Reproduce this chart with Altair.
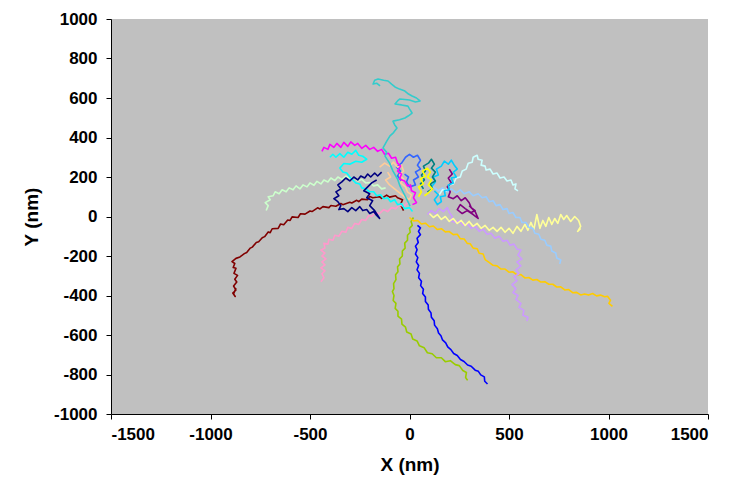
import altair as alt
import pandas as pd

# Trajectories (nm)
tracks = {
    "t01": ("#800000", [(-30,30),(-45,60),(-35,85),(-60,95),(-70,105),(-100,98),(-115,108),(-140,92),(-150,100),(-185,95),(-200,102),(-210,85),(-240,88),(-255,75),(-265,82),(-290,68),(-300,72),(-335,60),(-345,66),(-370,52),(-395,56),(-405,45),(-435,50),(-450,38),(-462,44),(-490,25),(-500,28),(-525,12),(-548,14),(-560,-5),(-590,-2),(-600,-20),(-612,-18),(-632,-42),(-648,-38),(-660,-60),(-690,-62),(-700,-82),(-710,-78),(-728,-102),(-740,-108),(-758,-128),(-770,-132),(-790,-155),(-800,-160),(-818,-182),(-830,-188),(-852,-205),(-872,-212),(-892,-228),(-878,-238),(-886,-258),(-872,-262),(-882,-288),(-864,-298),(-878,-318),(-868,-332),(-884,-352),(-872,-372),(-888,-388),(-876,-405),(-884,-392),(-872,-362)]),
    "t02": ("#CCFFCC", [(-720,30),(-710,55),(-725,70),(-700,85),(-710,100),(-685,105),(-675,125),(-655,115),(-640,135),(-620,125),(-605,145),(-585,135),(-570,155),(-550,140),(-535,160),(-515,150),(-500,170),(-480,158),(-465,178),(-445,165),(-430,185),(-410,175),(-395,195),(-375,182),(-360,200),(-340,188),(-320,205),(-300,192),(-280,198),(-260,180),(-240,188),(-220,170),(-200,172),(-180,155),(-160,160),(-140,140),(-120,145)]),
    "t03": ("#FF99CC", [(-10,70),(-30,50),(-50,60),(-70,40),(-90,45),(-110,25),(-130,35),(-150,15),(-170,20),(-190,0),(-205,5),(-220,-20),(-240,-15),(-255,-40),(-275,-35),(-290,-60),(-310,-55),(-320,-80),(-340,-75),(-355,-100),(-375,-95),(-385,-120),(-405,-115),(-410,-140),(-430,-135),(-425,-160),(-445,-170),(-425,-185),(-440,-200),(-420,-215),(-440,-230),(-425,-245),(-445,-260),(-425,-275),(-440,-290),(-430,-310),(-445,-330)]),
    "t04": ("#99CC00", [(20,-5),(8,-25),(14,-45),(0,-60),(4,-80),(-10,-95),(-10,-120),(-24,-135),(-22,-160),(-36,-175),(-36,-200),(-50,-215),(-48,-240),(-60,-255),(-58,-280),(-70,-295),(-68,-320),(-80,-340),(-78,-365),(-86,-380),(-78,-400),(-82,-425),(-68,-440),(-72,-465),(-58,-480),(-58,-505),(-40,-520),(-38,-545),(-20,-560),(-14,-585),(8,-595),(16,-620),(38,-630),(50,-655),(74,-665),(90,-690),(114,-695),(135,-715),(160,-715),(180,-735),(205,-730),(230,-750),(250,-755),(268,-780),(286,-790),(282,-815),(292,-830)]),
    "t05": ("#0000FF", [(40,-45),(55,-58),(45,-75),(55,-92),(38,-110),(44,-132),(30,-150),(38,-168),(30,-190),(42,-208),(34,-230),(46,-248),(38,-270),(50,-288),(46,-310),(60,-328),(56,-350),(70,-368),(66,-390),(80,-408),(80,-430),(94,-448),(95,-470),(108,-488),(110,-510),(124,-528),(126,-550),(140,-568),(146,-590),(158,-604),(166,-625),(182,-640),(192,-660),(208,-674),(222,-694),(240,-704),(256,-724),(274,-734),(292,-752),(310,-758),(330,-778),(346,-784),(358,-802),(376,-812),(378,-834),(392,-848)]),
    "t06": ("#FFCC00", [(0,-5),(20,-22),(40,-20),(60,-38),(80,-34),(100,-52),(120,-48),(140,-66),(160,-62),(180,-78),(200,-76),(220,-92),(240,-90),(255,-112),(275,-114),(290,-136),(305,-138),(320,-160),(340,-163),(350,-186),(370,-190),(380,-218),(400,-232),(420,-247),(440,-250),(460,-266),(480,-266),(500,-282),(520,-280),(540,-296),(560,-294),(580,-311),(600,-309),(620,-322),(640,-319),(660,-332),(680,-330),(700,-343),(720,-343),(740,-357),(760,-356),(780,-372),(800,-370),(820,-386),(840,-384),(860,-397),(880,-392),(900,-398),(920,-390),(940,-402),(960,-398),(980,-406),(995,-404),(1010,-424),(1002,-440),(1020,-455)]),
    "t07": ("#CC99FF", [(90,10),(110,30),(130,15),(150,40),(170,25),(190,45),(200,20),(215,0),(205,-20),(230,-30),(250,-20),(270,-45),(290,-35),(310,-60),(330,-50),(350,-75),(370,-65),(390,-90),(410,-85),(430,-110),(450,-100),(470,-125),(490,-120),(505,-145),(525,-140),(540,-165),(560,-170),(545,-195),(565,-215),(540,-230),(560,-250),(535,-270),(550,-290),(525,-305),(540,-325),(515,-345),(535,-365),(520,-385),(545,-400),(535,-420),(560,-440),(550,-460),(575,-475),(570,-500),(595,-510),(590,-530)]),
    "t08": ("#FFFF99", [(100,15),(120,-5),(140,10),(160,-15),(180,0),(200,-25),(220,-10),(240,-35),(260,-20),(280,-45),(300,-25),(320,-50),(340,-35),(360,-60),(380,-45),(400,-70),(420,-55),(440,-75),(460,-55),(480,-80),(500,-60),(520,-85),(540,-50),(560,-75),(580,-40),(595,-70),(610,-30),(625,-65),(640,10),(655,-60),(670,-20),(685,-50),(700,-5),(715,-40),(730,-10),(745,-35),(760,10),(775,-15),(790,5),(810,-25),(830,0),(850,-20),(860,-50),(845,-75),(860,-60)]),
    "t09": ("#99CCFF", [(120,150),(145,130),(165,145),(190,125),(210,140),(235,120),(255,135),(275,115),(300,125),(320,105),(345,115),(365,95),(385,100),(400,75),(420,80),(435,55),(455,60),(470,35),(490,40),(500,15),(520,20),(535,-5),(555,-5),(565,-30),(585,-30),(600,-55),(620,-60),(630,-85),(650,-90),(660,-115),(680,-120),(690,-145),(710,-150),(715,-175),(735,-185),(740,-210),(760,-220),(755,-240)]),
    "t10": ("#CCFFFF", [(150,110),(165,135),(185,130),(200,160),(220,165),(235,195),(255,200),(265,230),(285,240),(295,270),(315,275),(320,300),(340,310),(345,290),(365,285),(360,260),(380,255),(385,235),(405,240),(420,215),(440,220),(455,195),(475,200),(490,180),(510,185),(520,160),(535,165),(530,140),(545,130)]),
    "t11": ("#800080", [(200,240),(215,215),(195,195),(210,170),(190,150),(205,125),(195,100),(220,90),(240,105),(260,80),(280,95),(300,70),(310,45),(330,30),(310,20),(280,40),(255,60),(240,35),(265,15),(290,30),(320,10),(345,-10),(330,25),(300,55)]),
    "t12": ("#00CCFF", [(110,150),(130,175),(120,200),(145,210),(135,240),(160,255),(175,280),(195,265),(210,285),(225,260),(240,240),(220,225),(235,200),(210,195),(220,170),(195,160),(200,135),(175,130),(180,105),(155,100),(160,75),(140,60),(125,85),(145,110),(125,130)]),
    "t13": ("#008080", [(70,140),(55,165),(75,185),(60,210),(80,230),(70,255),(95,270),(110,290),(125,265),(110,245),(130,225),(115,200),(130,180),(105,165),(115,140),(90,125)]),
    "t14": ("#FFFF00", [(45,100),(60,125),(45,150),(70,165),(55,190),(80,205),(65,230),(90,245),(105,225),(90,200),(110,185),(95,160),(115,140),(95,120),(75,105)]),
    "t15": ("#3366FF", [(-40,180),(-60,205),(-45,230),(-65,250),(-40,270),(-20,300),(0,315),(20,300),(40,310),(55,285),(40,260),(55,240),(30,225),(45,200),(20,185),(30,160),(0,150),(-15,175),(-5,200),(-25,215)]),
    "t16": ("#FFCC99", [(-150,250),(-125,270),(-100,255),(-80,275),(-60,250),(-40,260),(-30,230),(-50,210),(-30,190),(-45,170),(-20,150),(-10,125),(10,110),(0,85),(-25,100),(-50,120),(-75,140),(-100,160),(-120,185),(-95,200),(-110,225)]),
    "t17": ("#FF00FF", [(-440,330),(-430,350),(-410,340),(-400,365),(-380,350),(-365,370),(-345,350),(-330,375),(-310,355),(-295,378),(-275,360),(-260,370),(-240,345),(-220,360),(-200,340),(-180,350),(-160,330),(-140,340),(-125,315),(-105,320),(-90,295),(-70,300),(-60,270),(-45,255),(-60,230),(-40,215),(-50,190),(-25,180),(-10,155),(5,160),(10,130),(30,120),(20,95),(35,70),(15,60)]),
    "t18": ("#00FFFF", [(-400,300),(-385,315),(-370,300),(-350,318),(-330,300),(-310,325),(-290,315),(-270,335),(-255,310),(-235,305),(-215,290),(-240,275),(-270,280),(-300,265),(-330,268),(-350,245),(-335,225),(-315,220),(-300,200),(-285,185),(-270,170),(-250,165),(-240,145),(-220,140),(-200,125),(-180,125),(-165,105),(-145,110),(-130,90),(-110,95),(-95,75),(-75,85),(-60,60),(-40,65),(-25,40),(0,45),(15,25)]),
    "t19": ("#000080", [(-140,225),(-160,205),(-175,220),(-195,200),(-210,215),(-225,195),(-245,205),(-260,185),(-280,200),(-300,180),(-320,195),(-340,175),(-360,160),(-345,140),(-370,125),(-355,105),(-380,90),(-360,75),(-345,55),(-355,35),(-330,40),(-310,25),(-290,45),(-270,30),(-250,50),(-235,30),(-215,35),(-200,15),(-180,25),(-165,5),(-150,-10),(-175,30),(-200,55),(-185,80),(-215,95),(-200,115),(-230,130),(-210,150),(-190,170),(-165,185)]),
    "t20": ("#33CCCC", [(3,53),(-20,100),(-48,155),(-60,190),(-83,230),(-100,270),(-123,306),(-115,325),(-133,347),(-115,380),(-98,408),(-80,425),(-63,448),(-75,465),(-83,483),(-50,490),(-23,499),(-5,510),(13,524),(0,545),(-8,559),(-40,565),(-73,570),(-60,585),(-48,595),(0,590),(30,580),(53,585),(35,600),(13,610),(-5,620),(-23,635),(-50,645),(-73,656),(-90,670),(-108,686),(-130,690),(-158,696),(-175,690),(-183,671),(-165,675),(-148,661)]),
}

x_ticks = [-1500, -1000, -500, 0, 500, 1000, 1500]
y_ticks = [-1000, -800, -600, -400, -200, 0, 200, 400, 600, 800, 1000]

rows = []
for name, (col, pts) in tracks.items():
    for i, (x, y) in enumerate(pts):
        rows.append({"track": name, "i": i, "x": x, "y": y})
df = pd.DataFrame(rows)

names = list(tracks.keys())
colors = [tracks[n][0] for n in names]

font = "Liberation Sans"
chart = alt.Chart(df).mark_line(strokeWidth=1.6, strokeJoin="round").encode(
    x=alt.X("x:Q", scale=alt.Scale(domain=[-1500, 1500], nice=False),
            axis=alt.Axis(values=x_ticks, title="X (nm)", labelExpr="'' + datum.value")),
    y=alt.Y("y:Q", scale=alt.Scale(domain=[-1000, 1000], nice=False),
            axis=alt.Axis(values=y_ticks, title="Y (nm)", labelExpr="'' + datum.value")),
    color=alt.Color("track:N", scale=alt.Scale(domain=names, range=colors), legend=None),
    order="i:Q",
).properties(width=597, height=395, padding={"left": 14, "top": 2, "right": 5, "bottom": 5}).configure_view(
    fill="#C0C0C0", stroke=None
).configure_axis(
    grid=False, domainColor="#000000", tickColor="#000000", tickSize=5,
    labelFont=font, labelFontSize=17, labelFontWeight="bold", labelColor="#000000",
    titleFont=font, titleFontSize=19, titleFontWeight="bold", titleColor="#000000",
).configure_axisX(labelPadding=7, titlePadding=13).configure_axisY(labelPadding=9, titlePadding=12)

chart.save("out.html", embed_options={"renderer": "svg", "actions": False})
